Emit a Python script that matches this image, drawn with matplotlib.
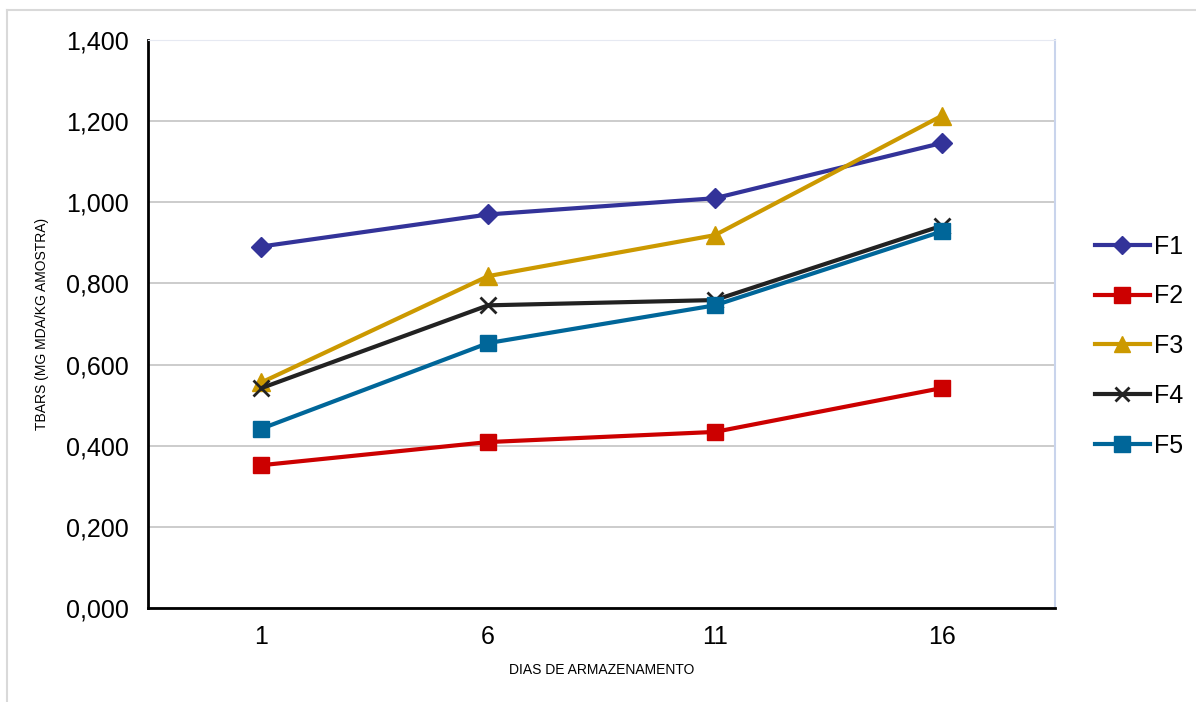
import matplotlib
matplotlib.use("Agg")
import matplotlib.pyplot as plt
from matplotlib.lines import Line2D
from matplotlib.ticker import FuncFormatter

plt.rcParams["font.family"] = ["Liberation Sans", "DejaVu Sans"]

days = ["1", "6", "11", "16"]
f1 = [0.891, 0.970, 1.010, 1.146]
f2 = [0.352, 0.409, 0.434, 0.542]
f3 = [0.556, 0.818, 0.919, 1.213]
f4 = [0.542, 0.746, 0.759, 0.942]
f5 = [0.442, 0.653, 0.746, 0.928]

series = [
    ("F1", f1, "#333399", "D", 10),
    ("F2", f2, "#CC0000", "s", 12),
    ("F3", f3, "#CC9900", "^", 13),
    ("F4", f4, "#222222", "x", 11),
    ("F5", f5, "#006699", "s", 12),
]

fig = plt.figure(figsize=(11.96, 7.02), dpi=100)
ax = fig.add_axes([148 / 1196, 94 / 702, 907 / 1196, 568 / 702])

x = range(len(days))
handles = []
for name, vals, col, mk, ms in series:
    mew = 2 if mk == "x" else 1
    ax.plot(x, vals, color=col, lw=3, marker=mk, ms=ms, mew=mew,
            mec=col, mfc=col, label=name, solid_capstyle="round")
    handles.append(Line2D([], [], color=col, lw=3, marker=mk, ms=ms - 1,
                          mew=mew, mec=col, mfc=col))

ax.set_xlim(-0.5, len(days) - 0.5)
ax.set_ylim(0, 1.4)
ax.set_xticks(list(x))
ax.set_xticklabels(days)
ax.set_yticks([0, 0.2, 0.4, 0.6, 0.8, 1.0, 1.2, 1.4])
ax.yaxis.set_major_formatter(FuncFormatter(lambda v, p: f"{v:.3f}".replace(".", ",")))
ax.tick_params(axis="both", length=0, labelsize=18)
ax.tick_params(axis="y", pad=14)
ax.tick_params(axis="x", pad=12)
ax.grid(axis="y", color="#c8c8c8", lw=1.3)
ax.set_axisbelow(True)

for s in ("left", "bottom"):
    ax.spines[s].set_color("black")
    ax.spines[s].set_linewidth(2)
ax.spines["top"].set_color("#e6e9f2")
ax.spines["right"].set_color("#c9d4ec")
ax.spines["right"].set_linewidth(1.5)

ax.set_xlabel("DIAS DE ARMAZENAMENTO", fontsize=10, labelpad=10)
ax.set_ylabel("TBARS (MG MDA/KG AMOSTRA)", fontsize=10, labelpad=12)

fig.legend(handles, [s[0] for s in series], loc="center left",
           bbox_to_anchor=(1072 / 1196, 0.507), frameon=False, fontsize=18,
           handlelength=2.2, handletextpad=0.2, labelspacing=1.03)

# light frame around chart area (top and left edges visible)
fig.add_artist(Line2D([7 / 1196, 7 / 1196], [0, 1 - 10 / 702],
                      transform=fig.transFigure, color="#d9d9d9", lw=1.5))
fig.add_artist(Line2D([7 / 1196, 1], [1 - 10 / 702, 1 - 10 / 702],
                      transform=fig.transFigure, color="#d9d9d9", lw=1.5))

fig.savefig("out.png", dpi=100)
